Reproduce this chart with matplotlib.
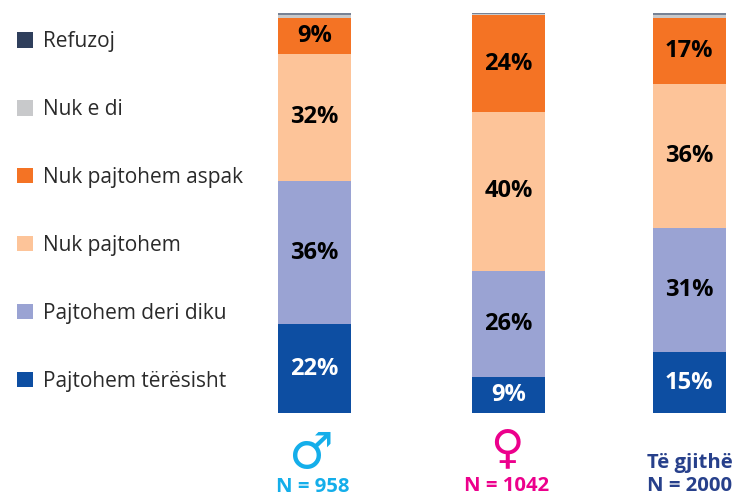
import matplotlib
matplotlib.use("Agg")
import matplotlib.pyplot as plt

W, H = 736, 496
categories = ["Meshkuj", "Femra", "Të gjithë"]
n_labels = ["N = 958", "N = 1042", "N = 2000"]
series_names = ["Pajtohem tërësisht", "Pajtohem deri diku", "Nuk pajtohem",
                "Nuk pajtohem aspak", "Nuk e di", "Refuzoj"]
pajtohem_teresisht = [22.2, 9.0, 15.2]
pajtohem_deri_diku = [35.8, 26.5, 31.0]
nuk_pajtohem = [31.8, 39.8, 36.0]
nuk_pajtohem_aspak = [9.0, 24.1, 16.6]
nuk_e_di = [0.8, 0.3, 0.8]
refuzoj = [0.4, 0.3, 0.4]
display_labels = [[22, 9, 15], [36, 26, 31], [32, 40, 36], [9, 24, 17]]

colors = ["#0D4EA2", "#9AA3D3", "#FDC499", "#F47324", "#C8C9CB", "#2F3F5C"]
text_colors = ["white", "black", "black", "black"]
bar_centers = [314.5, 508.5, 689]
bar_width = 73

fig = plt.figure(figsize=(W / 100, H / 100), dpi=100)
ax = fig.add_axes([0, (H - 413) / H, 1, 400 / H])
ax.set_xlim(0, W)
ax.set_ylim(0, 100)
ax.axis("off")

all_series = [pajtohem_teresisht, pajtohem_deri_diku, nuk_pajtohem,
              nuk_pajtohem_aspak, nuk_e_di, refuzoj]
bottom = [0, 0, 0]
handles = []
for i, vals in enumerate(all_series):
    bars = ax.bar(bar_centers, vals, bar_width, bottom=bottom, color=colors[i],
                  label=series_names[i], linewidth=0)
    handles.append(bars)
    if i < 4:
        for x, b, v, lab in zip(bar_centers, bottom, vals, display_labels[i]):
            ax.text(x, b + v / 2, f"{lab}%", ha="center", va="center",
                    fontsize=17, fontweight="bold", family="Open Sans",
                    color=text_colors[i])
    bottom = [b + v for b, v in zip(bottom, vals)]

fig.legend(handles[::-1], series_names[::-1], loc="upper left",
           bbox_to_anchor=(13 / W, 1 - 27 / H), frameon=False, ncol=1,
           prop={"family": "Open Sans", "size": 15}, labelcolor="#2A2A2A",
           handlelength=0.77, handleheight=0.77, handletextpad=0.48,
           labelspacing=2.25, borderpad=0.2, borderaxespad=0)

# the thin top segment reads as grey in the reference
for p in handles[-1]:
    p.set_alpha(0.65)

def figtext(x, y, s, va="baseline", **kw):
    fig.text(x / W, 1 - y / H, s, ha="center", va=va, **kw)

blue, pink, navy = "#14AEEA", "#EC008C", "#27408B"
figtext(310, 454, "\u2642", va="center", color=blue, fontsize=36, family="DejaVu Sans")
figtext(507, 450, "\u2640", va="center", color=pink, fontsize=33, family="DejaVu Sans")
for x, y, s, c in [(313, 491.5, n_labels[0], blue), (507, 491, n_labels[1], pink),
                   (690, 491, n_labels[2], navy)]:
    figtext(x, y, s, color=c, fontsize=14.6, fontweight="bold", family="Open Sans")
figtext(690, 468, categories[2], color=navy, fontsize=14.6, fontweight="bold", family="Open Sans")

fig.savefig("out.png", dpi=100)
